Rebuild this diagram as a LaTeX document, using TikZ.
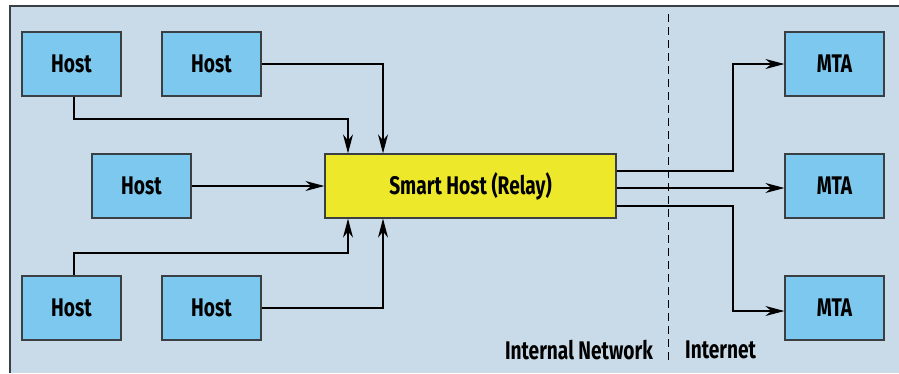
\documentclass[tikz,border=0pt]{standalone}
\usepackage{fontspec}
\setmainfont{Fira Sans}[FakeStretch=0.75]
\usetikzlibrary{arrows.meta}
\definecolor{panel}{HTML}{C9DBE8}
\definecolor{hostblue}{HTML}{7DC8EE}
\definecolor{relayyellow}{HTML}{EEE82A}
\definecolor{edgegray}{HTML}{3A3F44}
\tikzset{
  box/.style={draw=edgegray, line width=1.2pt, fill=hostblue, minimum width=99pt, minimum height=64pt,
    inner sep=0pt, font=\fontsize{25.5}{28}\selectfont\bfseries, text=black},
  relay/.style={box, fill=relayyellow, minimum width=291pt},
  link/.style={draw=black, line width=1.2pt},
  feed/.style={link, -{Stealth[length=19pt, width=10pt, inset=6pt]}},
  zonelabel/.style={font=\fontsize{25.5}{28}\selectfont\bfseries, inner sep=0pt}
}
\begin{document}
\begin{tikzpicture}[x=1pt, y=-1pt]
  \useasboundingbox (0,0) rectangle (899,373);
  % background panel
  \fill[white] (0,0) rectangle (899,373);
  \fill[panel] (10,6) rectangle (899,373);
  \draw[edgegray, line width=1.2pt] (10,373) -- (10,6) -- (899,6);

  % hosts
  \node[box] (h1) at (71.5,64) {Host};
  \node[box] (h2) at (211.5,64) {Host};
  \node[box] (h3) at (141.5,186) {Host};
  \node[box] (h4) at (71.5,308) {Host};
  \node[box] (h5) at (211.5,308) {Host};

  % relay
  \node[relay] (sh) at (470.5,186) {Smart Host (Relay)};

  % MTAs
  \node[box] (m1) at (834.5,64) {MTA};
  \node[box] (m2) at (834.5,186) {MTA};
  \node[box] (m3) at (834.5,308) {MTA};

  % network boundary
  \coordinate (dtop) at (668,14);
  \coordinate (dbot) at (668,364);
  \draw[black, line width=1pt, dash pattern=on 8pt off 5pt] (dtop) -- (dbot);
  \node[zonelabel, anchor=east] (inl) at (653,350) {Internal Network};
  \node[zonelabel, anchor=west] (inet) at (685,350) {Internet};

  % hosts to relay
  \draw[feed] (h1.south -| 74,0) |- (348,119) -- (sh.north -| 348,0);
  \draw[feed] (h2.east) -| (sh.north -| 383,0);
  \draw[feed] (h3.east) -- (sh.west);
  \draw[feed] (h4.north -| 74,0) |- (348,253) -- (sh.south -| 348,0);
  \draw[feed] (h5.east) -| (sh.south -| 383,0);

  % relay to MTAs
  \draw[feed] (sh.east |- 0,171) -| (733,118) |- (m1.west);
  \draw[feed] (sh.east |- 0,188) -- (m2.west |- 0,188);
  \draw[feed] (sh.east |- 0,206) -| (733,260) |- (m3.west |- 0,311);
\end{tikzpicture}
\end{document}
